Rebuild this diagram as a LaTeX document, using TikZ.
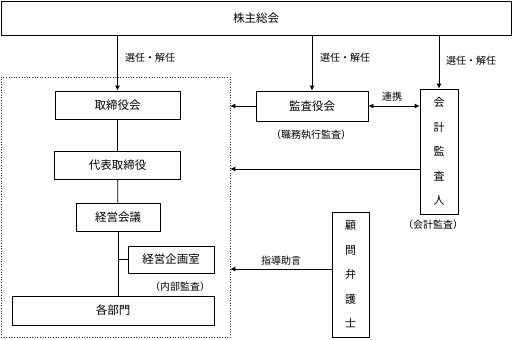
\documentclass[tikz,border=0pt]{standalone}
\usepackage{fontspec}
\setmainfont{Noto Sans CJK JP}
\usetikzlibrary{positioning, arrows.meta, calc}

\begin{document}
\begin{tikzpicture}[
    x=1pt, y=-1pt,
    font=\fontsize{11.5}{13}\selectfont,
    >={Latex[length=5pt,width=5pt]},
    box/.style={
        draw=black,
        rectangle,
        line width=0.8pt,
        inner sep=0pt,
        align=center
    },
    tallbox/.style={
        box,
        font=\fontsize{11}{24.5}\selectfont
    },
    note/.style={
        font=\fontsize{10}{12}\selectfont,
        inner sep=1pt
    },
    arrow/.style={
        draw=black,
        ->,
        line width=0.8pt
    },
    link/.style={
        draw=black,
        line width=0.8pt
    },
    container/.style={
        draw=black!80,
        dotted,
        rectangle,
        line width=0.6pt,
        inner sep=0pt
    }
]
\useasboundingbox (0,0) rectangle (512,340);

% shareholders
\node[box, minimum width=510pt, minimum height=34pt] (kabu) at (256,18) {株主総会};

% company (dotted group)
\node[container, minimum width=229pt, minimum height=260pt] (group) at (115.5,207) {};
\node[box, minimum width=125pt, minimum height=28pt] (tori) at (117.5,105) {取締役会};
\node[box, minimum width=126pt, minimum height=28pt] (daihyo) at (117.5,165) {代表取締役};
\node[box, minimum width=84pt, minimum height=28pt] (keiei) at (118,217) {経営会議};
\node[box, minimum width=86pt, minimum height=27pt] (kikaku) at (171,259.5) {経営企画室};
\node[box, minimum width=202pt, minimum height=29pt] (bumon) at (113,310.5) {各部門};
\node[note] (naibu) at (180,287) {（内部監査）};

\draw[link] (tori) -- (daihyo);
\draw[link] (daihyo) -- (keiei);
\draw[link] (keiei) -- (bumon.north -| keiei.south);
\draw[link] (kikaku.west -| keiei.south) -- (kikaku.west);

% auditors
\node[box, minimum width=112pt, minimum height=30pt] (kansa) at (312,106) {監査役会};
\node[note] (shokumu) at (311,135) {（職務執行監査）};
\node[tallbox, minimum width=38pt, minimum height=125pt] (kaikei) at (439,151.5) {\raisebox{-4pt}{\parbox{11pt}{\centering 会\\計\\監\\査\\人}}};
\node[note] (kaikeikansa) at (433,225) {（会計監査）};

% lawyer
\node[tallbox, minimum width=37pt, minimum height=125pt] (komon) at (350.5,274.5) {\raisebox{-5pt}{\parbox{11pt}{\centering 顧\\問\\弁\\護\\士}}};

% appointment arrows
\draw[arrow] (kabu.south -| tori.north) -- (tori.north);
\draw[arrow] (kabu.south -| kansa.north) -- (kansa.north);
\draw[arrow] (kabu.south -| kaikei.north) -- (kaikei.north);
\node[note, anchor=west] (sen1) at (124,58) {選任・解任};
\node[note, anchor=west] (sen2) at (319,58) {選任・解任};
\node[note, anchor=west] (sen3) at (445,61) {選任・解任};

% reporting arrows
\draw[arrow] (kansa.west) -- (kansa.west -| group.east);
\draw[arrow, <->] (kansa.east) -- (kansa.east -| kaikei.west);
\node[note] (renkei) at (392,97) {連携};
\coordinate (kk) at ([yshift=-17.5pt]kaikei.west);
\draw[arrow] (kk) -- (kk -| group.east);
\coordinate (km) at ([yshift=5.5pt]komon.west);
\draw[arrow] (km) -- (km -| group.east);
\node[note] (shido) at (281,261) {指導助言};

\end{tikzpicture}
\end{document}
